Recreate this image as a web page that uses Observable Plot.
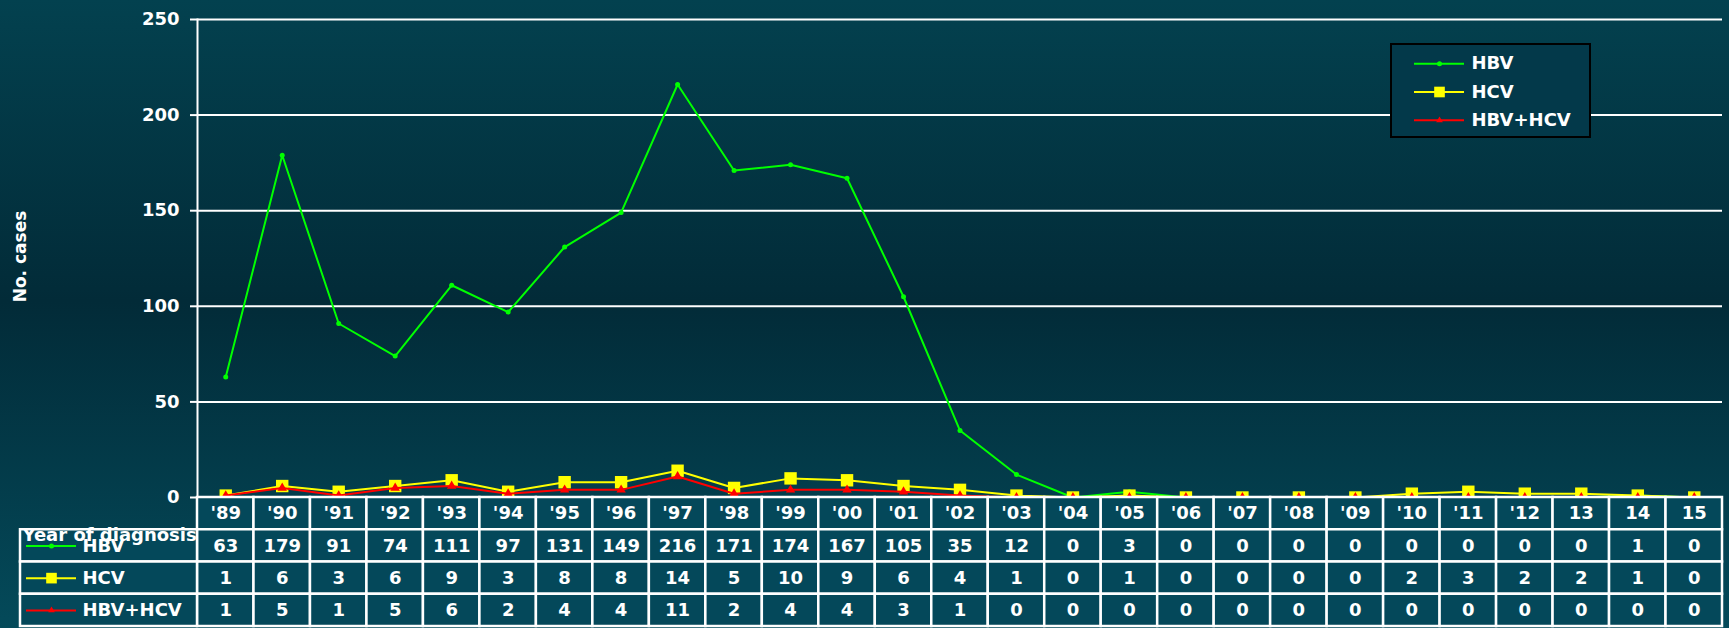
<!DOCTYPE html>
<html>
<head>
<meta charset="utf-8">
<script src="https://cdn.jsdelivr.net/npm/d3@7"></script>
<script src="https://cdn.jsdelivr.net/npm/@observablehq/plot@0.6"></script>
<style>
  html, body { margin: 0; padding: 0; background: #022b38; }
  #wrap { position: relative; width: 1729px; height: 628px; overflow: hidden;
    background: linear-gradient(to bottom, #03414f 0%, #022b38 48%, #044a5a 100%);
    font-family: "DejaVu Sans", Verdana, sans-serif; }
  #chart, #table, #rowlabels, #legend { position: absolute; }
  #chart { left: 0; top: 0; }
  #table { left: 0; top: 497px; }
  #rowlabels { left: 0; top: 497px; }
  #legend { left: 1390px; top: 43px; width: 197px; height: 91px; border: 2px solid #000; background: #03394a; }
  svg { overflow: visible; }
</style>
</head>
<body>
<div id="wrap">
  <div id="chart"></div>
  <div id="table"></div>
  <div id="rowlabels"></div>
  <div id="legend"></div>
</div>
<script>
const years = ["'89","'90","'91","'92","'93","'94","'95","'96","'97","'98","'99","'00","'01","'02","'03","'04","'05","'06","'07","'08","'09","'10","'11","'12","13","14","15"];
const hbv    = [63,179,91,74,111,97,131,149,216,171,174,167,105,35,12,0,3,0,0,0,0,0,0,0,0,1,0];
const hcv    = [1,6,3,6,9,3,8,8,14,5,10,9,6,4,1,0,1,0,0,0,0,2,3,2,2,1,0];
const hbvHcv = [1,5,1,5,6,2,4,4,11,2,4,4,3,1,0,0,0,0,0,0,0,0,0,0,0,0,0];
const seriesNames = ["HBV", "HCV", "HBV+HCV"];
const seriesColors = ["#00ff00", "#ffff00", "#ff0000"];
const yTicks = [0, 50, 100, 150, 200, 250];
const yLabel = "No. cases";
const tableTitle = "Year of diagnosis";

const seriesValues = [hbv, hcv, hbvHcv];
const symbols = ["circle", "square", "triangle"];
const chartR = [2.5, 7, 3.5];
const legendR = [2.5, 6, 2.5];

const rows = seriesValues.map((vals, s) => years.map((year, i) => ({year, value: vals[i], series: seriesNames[s]})));

const font = {fontFamily: "DejaVu Sans, Verdana, sans-serif", fontWeight: "bold"};

// Main chart
const lineMarks = [];
rows.forEach((data, s) => {
  lineMarks.push(Plot.line(data, {x: "year", y: "value", stroke: seriesColors[s], strokeWidth: 2}));
  lineMarks.push(Plot.dot(data, {x: "year", y: "value", fill: seriesColors[s], stroke: "none", symbol: symbols[s], r: chartR[s]}));
});

const chart = Plot.plot({
  width: 1729, height: 500,
  marginLeft: 197, marginRight: 7, marginTop: 19, marginBottom: 3,
  style: {background: "transparent", color: "white", fontSize: "18px", ...font},
  x: {type: "band", domain: years, padding: 0, round: false, axis: null},
  y: {domain: [0, 250], label: null},
  marks: [
    Plot.gridY(yTicks, {stroke: "white", strokeOpacity: 1, strokeWidth: 2}),
    Plot.axisY(yTicks, {tickSize: 7, tickPadding: 11, stroke: "white", strokeWidth: 2, fill: "white", fontSize: 18, fontWeight: "bold", label: null}),
    Plot.frame({anchor: "left", stroke: "white", strokeWidth: 2}),
    ...lineMarks,
    Plot.text([yLabel], {frameAnchor: "left", dx: -177, dy: -2, rotate: -90, textAnchor: "middle", fill: "white", fontSize: 17, fontWeight: "bold"})
  ]
});
document.getElementById("chart").append(chart);

// Data table
const rowKeys = ["year", ...seriesNames];
const cells = [];
years.forEach((year, i) => {
  cells.push({year, row: "year", label: year});
  seriesValues.forEach((vals, s) => cells.push({year, row: seriesNames[s], label: String(vals[i])}));
});

const table = Plot.plot({
  width: 1729, height: 131,
  marginLeft: 197, marginRight: 7, marginTop: 0, marginBottom: 2,
  style: {background: "transparent", color: "white", ...font},
  x: {type: "band", domain: years, padding: 0, round: false, axis: null},
  y: {type: "band", domain: rowKeys, padding: 0, round: false, axis: null},
  marks: [
    Plot.cell(cells, {x: "year", y: "row", fill: "#04485a", stroke: "white", strokeWidth: 2.5, inset: 0}),
    Plot.text(cells, {x: "year", y: "row", text: "label", fill: "white", fontSize: 18, fontWeight: "bold"})
  ]
});
document.getElementById("table").append(table);

// Row labels (left column of table) and legend, same swatch style
function swatchPlot({width, height, marginLeft, marginTop, marginBottom, domain, keys, withCells, lineStart, lineEnd, textX, rs, extra}) {
  const items = keys.map((k) => ({key: k, color: seriesColors[seriesNames.indexOf(k)], sym: symbols[seriesNames.indexOf(k)], r: rs[seriesNames.indexOf(k)]}));
  const fw = width - marginLeft;
  const marks = [];
  if (withCells) marks.push(Plot.cell(items, {y: "key", fill: "#04485a", stroke: "white", strokeWidth: 2.5, inset: 0}));
  items.forEach((it) => {
    marks.push(Plot.ruleY([it], {y: "key", stroke: it.color, strokeWidth: 2, insetLeft: lineStart, insetRight: fw - lineEnd}));
    marks.push(Plot.dot([it], {y: "key", frameAnchor: "left", dx: (lineStart + lineEnd) / 2, fill: it.color, stroke: "none", symbol: it.sym, r: it.r}));
  });
  marks.push(Plot.text(items, {y: "key", text: "key", frameAnchor: "left", dx: textX, textAnchor: "start", fill: "white", fontSize: 18, fontWeight: "bold"}));
  if (extra) marks.push(...extra);
  return Plot.plot({
    width, height, marginLeft, marginRight: 0, marginTop, marginBottom,
    style: {background: "transparent", color: "white", ...font},
    y: {type: "band", domain, padding: 0, round: false, axis: null},
    marks
  });
}

const rowLabels = swatchPlot({
  width: 197, height: 131, marginLeft: 20, marginTop: 0, marginBottom: 2,
  domain: rowKeys, keys: seriesNames, withCells: true,
  lineStart: 6, lineEnd: 56, textX: 62, rs: legendR,
  extra: [Plot.text([tableTitle], {frameAnchor: "top-left", dx: 2, dy: 31, textAnchor: "start", lineAnchor: "top", fill: "white", fontSize: 18, fontWeight: "bold"})]
});
document.getElementById("rowlabels").append(rowLabels);

const legend = swatchPlot({
  width: 197, height: 91, marginLeft: 0, marginTop: 4, marginBottom: 2,
  domain: seriesNames, keys: seriesNames, withCells: false,
  lineStart: 22, lineEnd: 72, textX: 79, rs: legendR
});
document.getElementById("legend").append(legend);
</script>
</body>
</html>
